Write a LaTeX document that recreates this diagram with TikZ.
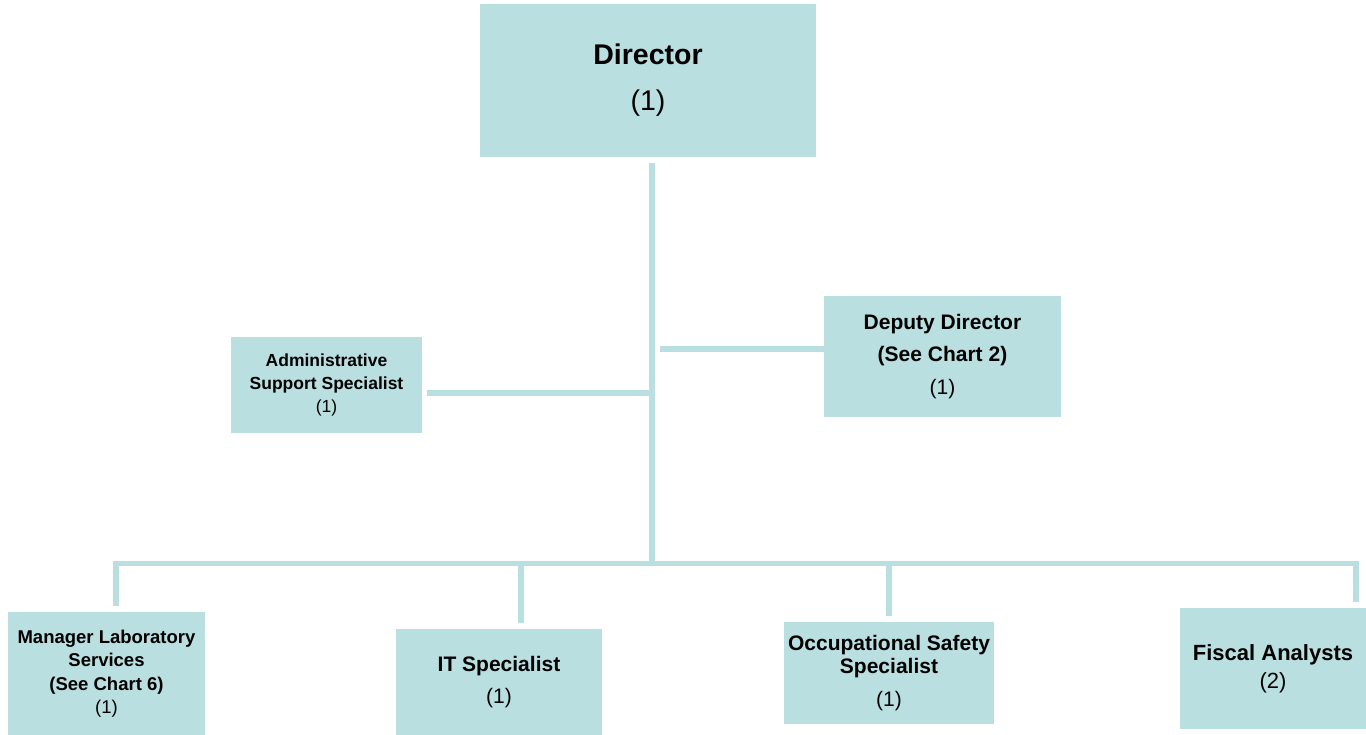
\documentclass[tikz,border=0pt]{standalone}
\usepackage{fontspec}
\setmainfont{Liberation Sans}
\definecolor{boxblue}{RGB}{185,223,225}
\tikzset{
    post/.style={rectangle, fill=boxblue, inner sep=0pt, align=center},
    link/.style={draw=boxblue, line width=5.5pt},
}
\begin{document}
\begin{tikzpicture}[x=1pt, y=-1pt]
    \useasboundingbox (0,0) rectangle (1366,735);

    % Boxes
    \node[post, minimum width=336pt, minimum height=153pt, font=\fontsize{28.5}{46}\selectfont] (dir) at (648,80.5)
        {\textbf{Director}\\(1)};
    \node[post, minimum width=191pt, minimum height=96pt, font=\fontsize{17.5}{23}\selectfont] (admin) at (326.5,385)
        {\textbf{Administrative}\\\textbf{Support Specialist}\\(1)};
    \node[post, minimum width=237pt, minimum height=121pt, font=\fontsize{21}{32.5}\selectfont] (deputy) at (942.5,356.5)
        {\textbf{Deputy Director}\\\textbf{(See Chart 2)}\\(1)};
    \node[post, minimum width=197pt, minimum height=123pt, font=\fontsize{18.5}{23.5}\selectfont] (mgr) at (106.5,673.5)
        {\textbf{Manager Laboratory}\\\textbf{Services}\\\textbf{(See Chart 6)}\\(1)};
    \node[post, minimum width=206pt, minimum height=106pt, font=\fontsize{21}{32}\selectfont] (it) at (499,682)
        {\textbf{IT Specialist}\\(1)};
    \node[post, minimum width=210pt, minimum height=102pt, font=\fontsize{21}{23}\selectfont] (oss) at (889,673)
        {\textbf{Occupational Safety}\\\textbf{Specialist}\\[10pt](1)};
    \node[post, minimum width=186pt, minimum height=121pt, font=\fontsize{22}{28}\selectfont] (fiscal) at (1273,668.5)
        {\textbf{Fiscal Analysts}\\(2)};

    % Connectors
    \coordinate (hub) at (652,563.5);
    \draw[link, shorten <=6pt] (dir.south -| hub) -- (hub);
    \draw[link, shorten <=5pt, shorten >=3pt] ([yshift=-8pt]admin.east) -- ([yshift=-8pt]admin.east -| hub);
    \draw[link, shorten >=8pt] ([yshift=7.5pt]deputy.west) -- ([yshift=7.5pt]deputy.west -| hub);
    \draw[link, shorten >=6pt] (hub) -| ([xshift=9.5pt]mgr.north);
    \draw[link, shorten >=6pt] (hub) -| ([xshift=22pt]it.north);
    \draw[link, shorten >=6pt] (hub) -| (oss.north);
    \draw[link, shorten >=6pt] (hub) -| ([xshift=83pt]fiscal.north);
\end{tikzpicture}
\end{document}
